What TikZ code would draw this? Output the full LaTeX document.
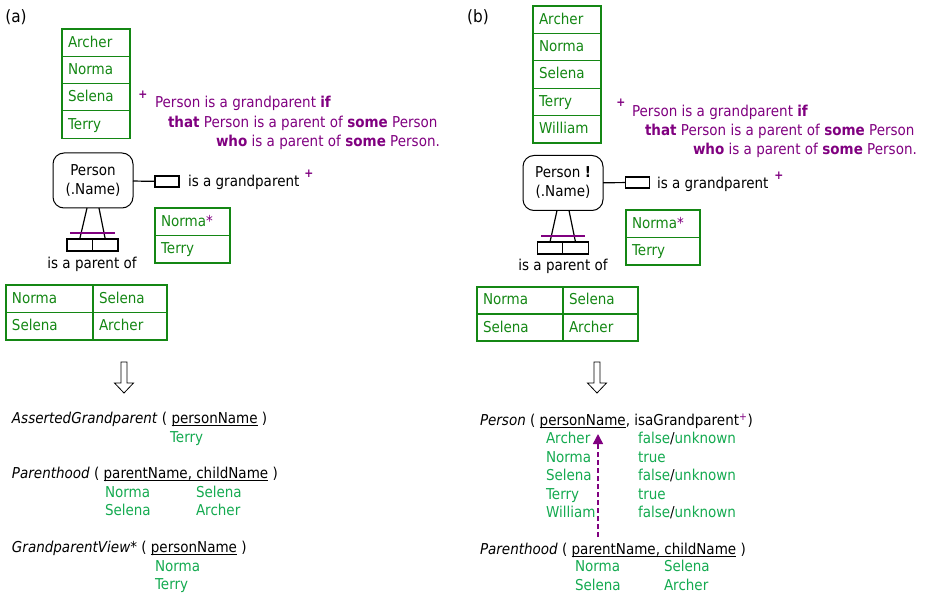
\documentclass[tikz,border=0pt]{standalone}
\usepackage{fontspec}
\setmainfont{DejaVu Sans}[FakeStretch=0.9]
\usetikzlibrary{calc,arrows.meta}
\definecolor{tgreen}{RGB}{20,135,20}
\definecolor{lgreen}{RGB}{20,170,80}
\definecolor{purp}{RGB}{128,0,128}
\newcommand\myul[1]{\setbox0\hbox{#1}\rlap{\rule[-2.3pt]{\wd0}{0.7pt}}\box0\relax}
\newcommand\pl{\textcolor{purp}{\textsuperscript{+}}}
\tikzset{
  txt/.style={inner sep=0pt, outer sep=0pt, text height=11.5pt, text depth=2.5pt, anchor=west},
  gtxt/.style={txt, text=lgreen},
  ptxt/.style={txt, text=purp},
  cell/.style={draw=tgreen, line width=1.2pt, text=tgreen, inner xsep=6pt, inner ysep=0pt, outer sep=0pt,
    text height=11.5pt, text depth=2.5pt, align=left, anchor=north west},
  ent/.style={draw, rounded corners=11pt, line width=1pt, align=center, minimum width=80pt,
    minimum height=55pt, inner sep=0pt, outer sep=0pt},
  rolebox/.style={draw, line width=1.1pt, inner sep=0pt, outer sep=0pt, minimum height=12pt, minimum width=25.5pt},
  factbox/.style={draw, line width=1.1pt, inner sep=0pt, outer sep=0pt, minimum height=11pt, minimum width=24pt},
  link/.style={line width=1.2pt},
  ucbar/.style={draw=purp, line width=1.3pt},
  plus/.style={inner sep=0pt, text=purp, font=\fontsize{12}{12}\bfseries\selectfont},
  lbl/.style={inner sep=0pt, font=\fontsize{17}{17}\selectfont},
  hollow/.style={line width=0.8pt, fill=white}
}
\begin{document}
\begin{tikzpicture}[x=1pt, y=-1pt, font=\fontsize{15}{19}\selectfont]
\useasboundingbox (0,0) rectangle (927,596);

% ================= (a) =================
\node[lbl] (la) at (16,17) {(a)};

\node[cell, minimum height=27.3pt, text width=56pt] (a1) at (62,29) {Archer};
\node[cell, minimum height=27.3pt, text width=56pt] (a2) at (a1.south west) {Norma};
\node[cell, minimum height=27.3pt, text width=56pt] (a3) at (a2.south west) {Selena};
\node[cell, minimum height=27.3pt, text width=56pt] (a4) at (a3.south west) {Terry};

\node[plus] (ap) at (143,95) {+};
\node[ptxt] (ar1) at (155,103) {Person is a grandparent \textbf{if}};
\node[ptxt] (ar2) at (168,123) {\textbf{that} Person is a parent of \textbf{some} Person};
\node[ptxt] (ar3) at (216,142) {\textbf{who} is a parent of \textbf{some} Person.};

\node[ent] (ape) at (93,180.5) {Person\\(.Name)};
\node[factbox] (agf) at (167,181.5) {};
\draw[link] (ape) -- (agf);
\node[txt] (agt) at (188,182) {is a grandparent};
\node[plus] (agp) at (309,174) {+};

\node[rolebox] (ar1b) at (79.75,245) {};
\node[rolebox] (ar2b) at (105.25,245) {};
\draw[link] ($(ape.south)+(-6,0)$) -- (ar1b.north);
\draw[link] ($(ape.south)+(6,0)$) -- (ar2b.north);
\draw[ucbar] (70,233) -- (115,233);
\node[txt, anchor=center] (apt) at (92,264) {is a parent of};

\node[cell, minimum height=27.5pt, text width=63pt] (ag1) at (155,208) {Norma\textcolor{purp}{*}};
\node[cell, minimum height=27.5pt, text width=63pt] (ag2) at (ag1.south west) {Terry};

\node[cell, minimum height=27.5pt, text width=75pt] (ap11) at (6,285) {Norma};
\node[cell, minimum height=27.5pt, text width=62pt] (ap12) at (ap11.north east) {Selena};
\node[cell, minimum height=27.5pt, text width=75pt] (ap21) at (ap11.south west) {Selena};
\node[cell, minimum height=27.5pt, text width=62pt] (ap22) at (ap21.north east) {Archer};

\draw[hollow] (121,362) -- (127,362) -- (127,383) -- (133.5,383) -- (124,393) -- (114.5,383) -- (121,383) -- cycle;

\node[txt] (aag) at (12,419) {\textit{AssertedGrandparent} ( \myul{personName} )};
\node[gtxt] (aag1) at (170,438) {Terry};
\node[txt] (aph) at (12,474) {\textit{Parenthood} ( \myul{parentName, childName} )};
\node[gtxt] (aph11) at (105,493) {Norma};
\node[gtxt] (aph12) at (196,493) {Selena};
\node[gtxt] (aph21) at (105,511) {Selena};
\node[gtxt] (aph22) at (196,511) {Archer};
\node[txt] (agv) at (12,548) {\textit{GrandparentView*} ( \myul{personName} )};
\node[gtxt] (agv1) at (155,567) {Norma};
\node[gtxt] (agv2) at (155,585) {Terry};

% ================= (b) =================
\node[lbl] (lb) at (478,17) {(b)};

\node[cell, minimum height=27.4pt, text width=56pt] (b1) at (533,6) {Archer};
\node[cell, minimum height=27.4pt, text width=56pt] (b2) at (b1.south west) {Norma};
\node[cell, minimum height=27.4pt, text width=56pt] (b3) at (b2.south west) {Selena};
\node[cell, minimum height=27.4pt, text width=56pt] (b4) at (b3.south west) {Terry};
\node[cell, minimum height=27.4pt, text width=56pt] (b5) at (b4.south west) {William};

\node[plus] (bp) at (621,103) {+};
\node[ptxt] (br1) at (632,112) {Person is a grandparent \textbf{if}};
\node[ptxt] (br2) at (645,131) {\textbf{that} Person is a parent of \textbf{some} Person};
\node[ptxt] (br3) at (693,150) {\textbf{who} is a parent of \textbf{some} Person.};

\node[ent] (bpe) at (563,183) {Person \textbf{!}\\(.Name)};
\node[factbox] (bgf) at (637.5,182.5) {};
\draw[link] (bpe) -- (bgf);
\node[txt] (bgt) at (657,184) {is a grandparent};
\node[plus] (bgp) at (779,176) {+};

\node[rolebox] (br1b) at (550,248) {};
\node[rolebox] (br2b) at (575.5,248) {};
\draw[link] ($(bpe.south)+(-6,0)$) -- (br1b.north);
\draw[link] ($(bpe.south)+(6,0)$) -- (br2b.north);
\draw[ucbar] (541,236) -- (585,236);
\node[txt, anchor=center] (bpt) at (563,266) {is a parent of};

\node[cell, minimum height=27.5pt, text width=62pt] (bg1) at (626,210) {Norma\textcolor{purp}{*}};
\node[cell, minimum height=27.5pt, text width=62pt] (bg2) at (bg1.south west) {Terry};

\node[cell, minimum height=27pt, text width=74pt] (bp11) at (477,287) {Norma};
\node[cell, minimum height=27pt, text width=63pt] (bp12) at (bp11.north east) {Selena};
\node[cell, minimum height=27pt, text width=74pt] (bp21) at (bp11.south west) {Selena};
\node[cell, minimum height=27pt, text width=63pt] (bp22) at (bp21.north east) {Archer};

\draw[hollow] (594,362) -- (600,362) -- (600,383) -- (606.5,383) -- (597,393) -- (587.5,383) -- (594,383) -- cycle;

\node[txt] (bpp) at (480,421) {\textit{Person} ( \myul{personName}, isaGrandparent\pl)};
\node[gtxt] (bn1) at (546,439) {Archer};
\node[gtxt] (bn2) at (546,458) {Norma};
\node[gtxt] (bn3) at (546,476) {Selena};
\node[gtxt] (bn4) at (546,495) {Terry};
\node[gtxt] (bn5) at (546,513) {William};
\node[gtxt] (bv1) at (638,439) {false\textcolor{black}{/}unknown};
\node[gtxt] (bv2) at (638,458) {true};
\node[gtxt] (bv3) at (638,476) {false\textcolor{black}{/}unknown};
\node[gtxt] (bv4) at (638,495) {true};
\node[gtxt] (bv5) at (638,513) {false\textcolor{black}{/}unknown};

\coordinate (ds) at (598,537);
\coordinate (de) at (598,434);
\draw[purp, dashed, dash pattern=on 5pt off 3pt, line width=1.5pt, -{Triangle[length=10pt,width=10pt]}] (ds) -- (de);

\node[txt] (bph) at (480,550) {\textit{Parenthood} ( \myul{parentName, childName} )};
\node[gtxt] (bph11) at (575,567) {Norma};
\node[gtxt] (bph12) at (664,567) {Selena};
\node[gtxt] (bph21) at (575,586) {Selena};
\node[gtxt] (bph22) at (664,586) {Archer};
\end{tikzpicture}
\end{document}
